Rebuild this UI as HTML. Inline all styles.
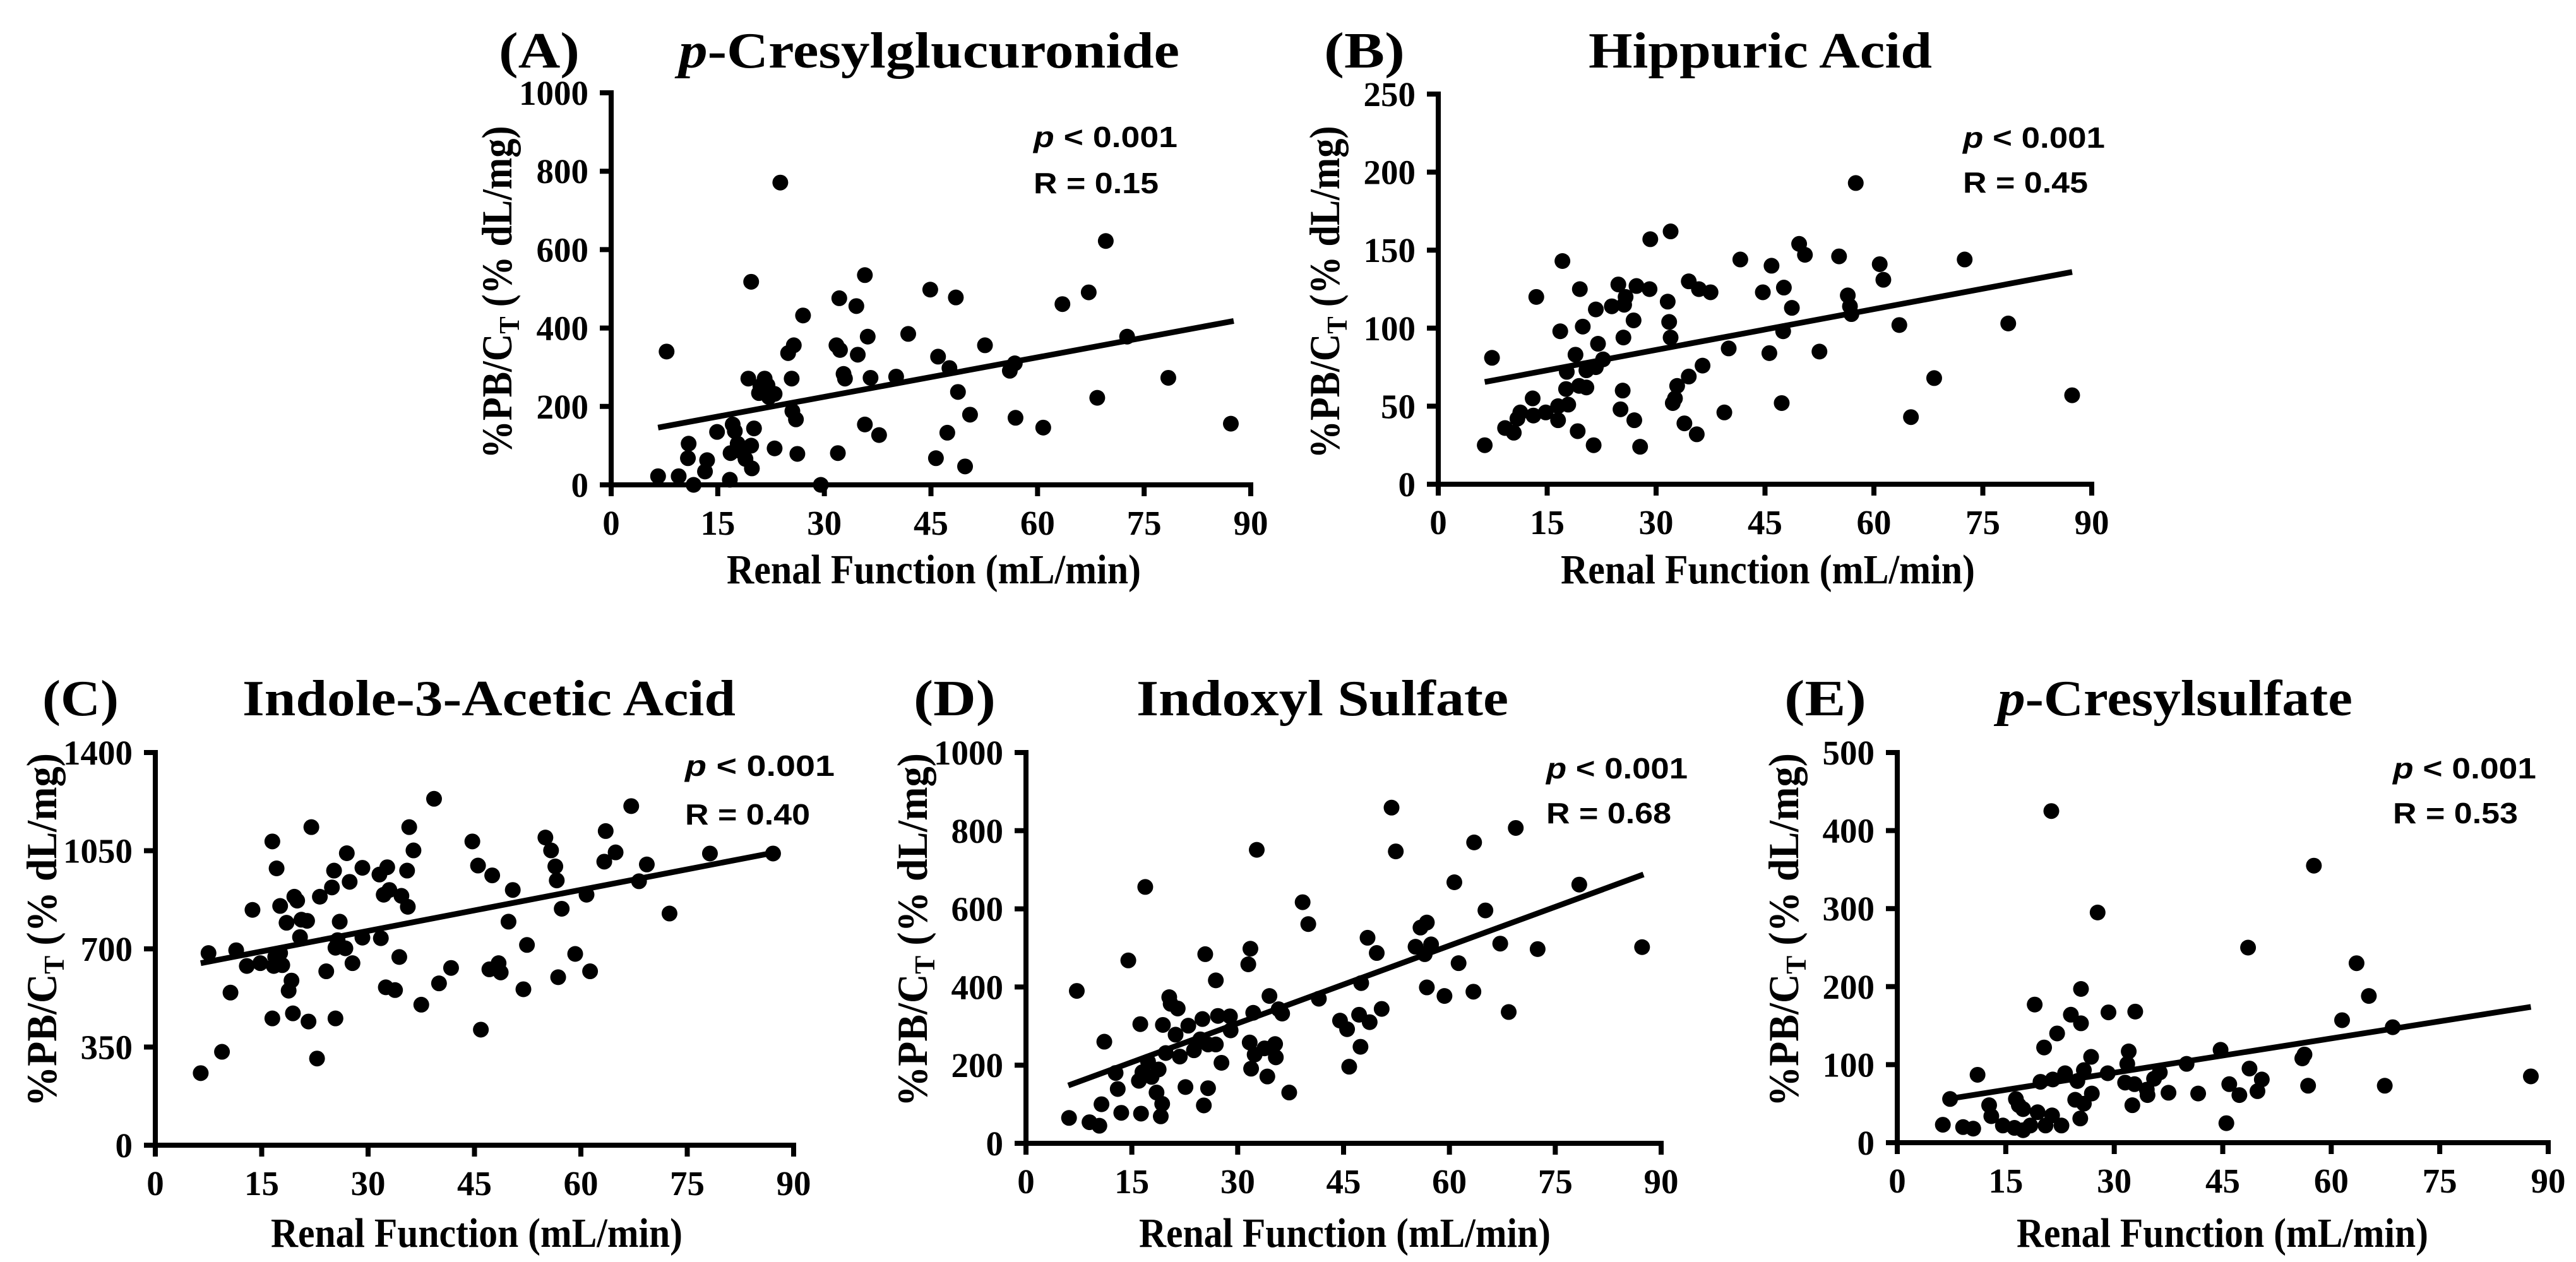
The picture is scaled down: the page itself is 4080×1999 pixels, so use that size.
<!DOCTYPE html>
<html><head><meta charset="utf-8">
<style>
html,body{margin:0;padding:0;background:#fff;}
svg{display:block;}
</style></head>
<body>
<svg id="fig" width="4080" height="1999" viewBox="0 0 4080 1999" xmlns="http://www.w3.org/2000/svg"></svg>
<script>
// ---------- shared ticks ----------
const xTicks=[0,15,30,45,60,75,90];
// ---------- Panel A: p-Cresylglucuronide ----------
const aYTicks=[0,200,400,600,800,1000];
const aX=[6.6,7.8,9.5,10.8,10.9,11.6,13.2,13.5,14.9,16.7,16.8,17.1,17.4,17.8,18.2,18.9,19.3,19.7,19.7,19.8,20.1,20.8,21,21.6,22,22.2,23,23,23.8,24.9,25.4,25.5,25.7,26,26.2,27,29.5,31.7,31.9,32.1,32.2,32.7,32.9,34.5,34.7,35.7,35.7,36.1,36.5,37.7,40.1,41.8,44.9,45.7,46,47.3,47.6,48.5,48.8,49.8,50.5,52.6,56.1,56.8,56.9,60.8,63.5,67.2,68.4,69.6,72.6,78.4,87.2];
const aY=[22,340,22,68,105,0,34,63,135,13,81,154,137,105,86,66,271,518,100,42,144,234,252,271,254,224,232,93,771,336,271,188,356,167,79,432,0,356,81,476,344,283,271,456,332,535,154,378,273,127,276,385,498,68,327,133,298,478,237,47,179,356,291,310,171,146,461,491,222,622,378,273,156];
const aFitX=[6.6,87.6];
const aFitY=[146,418];
// ---------- Panel B: Hippuric Acid ----------
const bYTicks=[0,50,100,150,200,250];
const bX=[6.4,7.4,9.2,10.4,10.9,11.3,13,13.1,13.5,14.8,16.5,16.5,16.8,17.1,17.9,17.6,17.7,18.9,19.2,19.4,19.5,19.9,20.4,20.4,21.4,21.7,21.7,22,22.7,23.9,24.8,25.1,25.4,25.5,25.6,25.8,26.9,27,27.3,27.8,29.1,29.2,31.6,31.8,32,32,32.3,32.6,32.9,33.9,34.5,34.5,35.6,35.9,36.4,37.5,39.4,40,41.6,44.7,45.6,45.9,47.3,47.5,47.6,48.7,49.7,50.5,52.5,55.2,56.4,56.7,56.9,57.5,60.8,61.3,63.5,65.1,68.3,72.5,78.5,87.3];
const bY=[25,81,36,33,42,46,55,44,120,46,41,50,98,143,51,61,72,83,34,63,125,101,62,73,25,75,112,90,80,114,128,48,60,94,115,120,105,41,127,24,125,157,117,104,94,162,52,55,63,39,69,130,32,125,76,123,46,87,144,123,84,140,52,98,126,113,154,147,85,146,121,114,109,193,141,131,102,43,68,144,103,57];
const bFitX=[6.4,87.3];
const bFitY=[65.5,136];
// ---------- Panel C: Indole-3-Acetic Acid ----------
const cYTicks=[0,350,700,1050,1400];
const cX=[6.4,7.5,9.4,10.6,11.4,12.9,13.7,14.8,16.5,16.5,16.7,16.9,17.1,17.6,17.6,17.9,18.5,18.8,19.2,19.4,19.6,20,20.4,20.6,21.4,21.6,22,22.8,23.2,24.1,24.9,25.2,25.4,25.4,25.7,26,26.8,27,27.4,27.8,29.2,29.2,31.6,31.8,32.2,32.5,32.7,33,33.8,34.4,34.7,35.5,35.6,35.8,36.4,37.5,39.3,40,41.7,44.7,45.5,45.9,47.1,47.5,48.4,48.7,49.8,50.4,51.9,52.4,55,55.8,56.4,56.6,56.8,57.3,59.2,60.8,61.3,63.3,63.5,64.9,67.1,68.2,69.3,72.5,78.2,87.1];
const cY=[257,685,333,544,695,639,839,649,452,1083,639,671,987,853,685,642,793,551,587,470,886,872,742,804,800,441,1134,309,886,620,919,979,452,704,731,797,702,1041,939,649,740,989,965,738,893,563,991,910,553,671,889,979,850,1134,1051,501,1235,577,632,1083,997,412,627,962,649,616,797,910,556,714,1097,1051,994,944,599,843,682,893,620,1011,1120,1044,1209,941,1001,826,1040,1040];
const cFitX=[6.4,87.4];
const cFitY=[649,1044];
// ---------- Panel D: Indoxyl Sulfate ----------
const dYTicks=[0,200,400,600,800,1000];
const dX=[6.1,7.2,9,10.4,10.7,11.1,12.7,13,13.5,14.5,16,16.2,16.3,16.5,16.9,17.3,17.8,18.5,18.8,19.1,19.3,19.4,19.8,20.3,20.5,21.2,21.5,21.8,22.6,23,23.8,24.7,25,25.2,25.4,25.8,25.8,26.9,26.9,27.2,27.7,28.9,29,31.5,31.7,31.8,31.9,32.2,32.4,32.7,33.8,34.2,34.5,35.3,35.4,35.8,36.3,37.3,39.2,40,41.5,44.5,45.5,45.8,47.2,47.4,47.5,48.4,48.7,49.7,50.4,51.8,52.4,55.2,55.9,56.5,56.8,56.8,57.4,59.3,60.7,61.3,63.4,63.5,65.1,67.2,68.4,69.4,72.5,78.4,87.3];
const dY=[65,390,54,45,100,260,180,139,78,468,160,305,76,182,656,209,170,130,189,69,101,303,231,374,357,278,345,222,144,301,238,266,318,97,484,141,253,253,417,326,206,325,289,458,258,498,191,334,227,751,243,171,377,254,220,343,332,130,617,561,370,314,292,196,329,247,410,526,310,487,344,859,747,503,552,484,565,399,509,377,668,461,388,770,596,511,336,807,497,662,502];
const dFitX=[6,87.5];
const dFitY=[148,688];
// ---------- Panel E: p-Cresylsulfate ----------
const eYTicks=[0,100,200,300,400,500];
const eX=[6.3,7.3,9.1,10.5,11.1,12.7,13,14.6,16.2,16.4,16.8,17.4,17.4,18.4,19,19.4,19.8,20.3,20.5,21.3,21.4,21.5,22.1,22.7,23.2,24,24.6,24.9,25.3,25.4,25.4,25.8,25.8,26.8,26.9,27.7,29.1,29.2,31.5,31.8,32,32.5,32.8,32.9,34.5,34.6,35.5,36.3,37.5,40,41.6,44.7,45.5,45.9,47.3,48.5,48.7,49.8,50.4,56,56.3,56.8,57.6,61.5,63.5,65.2,67.4,68.5,87.6];
const eY=[23,56,20,18,87,48,34,22,19,56,48,43,16,22,177,39,78,122,22,425,35,81,140,22,89,164,55,79,31,197,153,93,50,110,63,295,89,167,77,101,117,48,75,168,68,61,82,90,64,101,63,119,25,75,61,250,95,66,81,108,113,73,355,157,230,188,73,148,85];
const eFitX=[7,87.6];
const eFitY=[56,174];

// ---------- layout (pixels, not data) ----------
const NS='http://www.w3.org/2000/svg';
const svg=document.getElementById('fig');
function mk(tag,attrs,parent){const e=document.createElementNS(NS,tag);for(const k in attrs)e.setAttribute(k,attrs[k]);(parent||svg).appendChild(e);return e;}

const panels=[
 {id:'a',x0:968,x1:1981,y0:768,y1:147,xs:aX,ys:aY,yt:aYTicks,fx:aFitX,fy:aFitY,
  letter:'(A)',lx:790,lw:128,title:['p','-Cresylglucuronide'],tx:1075,tw:793,tb:107,
  px:1637,pw:228,pb:233,rb:306,ptxt:' < 0.001',rtxt:'R = 0.15',rw:198,
  ylx:810,ylc:463,yll:527,xlc:1479,xlb:924,xlw:656},
 {id:'b',x0:2278,x1:3313,y0:767,y1:149,xs:bX,ys:bY,yt:bYTicks,fx:bFitX,fy:bFitY,
  letter:'(B)',lx:2097,lw:128,title:['','Hippuric Acid'],tx:2516,tw:544,tb:107,
  px:3109,pw:225,pb:234,rb:305,ptxt:' < 0.001',rtxt:'R = 0.45',rw:198,
  ylx:2121,ylc:463,yll:527,xlc:2800,xlb:924,xlw:656},
 {id:'c',x0:246,x1:1257,y0:1814,y1:1192,xs:cX,ys:cY,yt:cYTicks,fx:cFitX,fy:cFitY,
  letter:'(C)',lx:67,lw:121,title:['','Indole-3-Acetic Acid'],tx:384,tw:781,tb:1133,
  px:1085,pw:237,pb:1229,rb:1306,ptxt:' <  0.001',rtxt:'R = 0.40',rw:198,
  ylx:89,ylc:1473,yll:560,xlc:755,xlb:1975,xlw:652},
 {id:'d',x0:1625,x1:2631,y0:1811,y1:1192,xs:dX,ys:dY,yt:dYTicks,fx:dFitX,fy:dFitY,
  letter:'(D)',lx:1447,lw:130,title:['','Indoxyl Sulfate'],tx:1800,tw:589,tb:1133,
  px:2449,pw:224,pb:1233,rb:1304,ptxt:' < 0.001',rtxt:'R = 0.68',rw:198,
  ylx:1468,ylc:1473,yll:560,xlc:2130,xlb:1975,xlw:652},
 {id:'e',x0:3005,x1:4036,y0:1810,y1:1192,xs:eX,ys:eY,yt:eYTicks,fx:eFitX,fy:eFitY,
  letter:'(E)',lx:2826,lw:130,title:['p','-Cresylsulfate'],tx:3164,tw:562,tb:1133,
  px:3790,pw:227,pb:1233,rb:1304,ptxt:' < 0.001',rtxt:'R = 0.53',rw:198,
  ylx:2848,ylc:1473,yll:560,xlc:3520,xlb:1975,xlw:652}
];

const serif='"Liberation Serif", "Times New Roman", serif';
const sans='"Liberation Sans", Arial, sans-serif';

panels.forEach(p=>{
  const g=mk('g',{});
  
  
  const ymax=p.yt[p.yt.length-1];
  const sx=v=>p.x0+(v-xTicks[0])/(xTicks[xTicks.length-1]-xTicks[0])*(p.x1-p.x0);
  const sy=v=>p.y0-(v-p.yt[0])/(ymax-p.yt[0])*(p.y0-p.y1);

  const L=mk('text',{x:p.lx,y:p.tb,'font-family':serif,'font-weight':'bold','font-size':80,textLength:p.lw,lengthAdjust:'spacingAndGlyphs'},g);
  L.textContent=p.letter;
  
  
  const T=mk('text',{x:p.tx,y:p.tb,'font-family':serif,'font-weight':'bold','font-size':80,textLength:p.tw,lengthAdjust:'spacingAndGlyphs'},g);
  
  
  if(p.title[0]){const s=mk('tspan',{'font-style':'italic'},T);s.textContent=p.title[0];}
  const s2=mk('tspan',{},T);s2.textContent=p.title[1];

  const ax=mk('g',{stroke:'#000','stroke-width':8,fill:'none','stroke-linecap':'square'},g);
  
  
  mk('line',{x1:p.x0,y1:p.y0,x2:p.x1,y2:p.y0},ax);
  mk('line',{x1:p.x0,y1:p.y0,x2:p.x0,y2:p.y1},ax);
  xTicks.forEach(t=>{
    mk('line',{x1:sx(t),y1:p.y0,x2:sx(t),y2:p.y0+14},ax);
    const tl=mk('text',{x:sx(t),y:p.y0+79,'text-anchor':'middle','font-family':serif,'font-weight':'bold','font-size':55,fill:'#000',stroke:'none'},g);
    tl.textContent=t;
    
    
  });
  p.yt.forEach(t=>{
    mk('line',{x1:p.x0-14,y1:sy(t),x2:p.x0,y2:sy(t)},ax);
    const tl=mk('text',{x:p.x0-36,y:sy(t)+19,'text-anchor':'end','font-family':serif,'font-weight':'bold','font-size':55,fill:'#000'},g);
    tl.textContent=t;
    
    
  });

  const XT=mk('text',{x:p.xlc,y:p.xlb,'text-anchor':'middle','font-family':serif,'font-weight':'bold','font-size':66,textLength:p.xlw,lengthAdjust:'spacingAndGlyphs'},g);
  XT.textContent='Renal Function (mL/min)';
  
  
  const YT=mk('text',{x:0,y:0,'text-anchor':'middle','font-family':serif,'font-weight':'bold','font-size':68,textLength:p.yll,lengthAdjust:'spacingAndGlyphs',transform:`translate(${p.ylx},${p.ylc}) rotate(-90)`},g);
  
  
  const y1=mk('tspan',{},YT);y1.textContent='%PB/C';
  const y2=mk('tspan',{'font-size':46,dy:12},YT);y2.textContent='T';
  const y3=mk('tspan',{dy:-12},YT);y3.textContent=' (% dL/mg)';

  const pts=mk('g',{fill:'#000'},g);
  
  
  p.xs.forEach((v,i)=>{
    const c=mk('circle',{cx:sx(v),cy:sy(p.ys[i]),r:12.5},pts);
    
    
  });
  const ln=mk('line',{x1:sx(p.fx[0]),y1:sy(p.fy[0]),x2:sx(p.fx[1]),y2:sy(p.fy[1]),stroke:'#000','stroke-width':9},g);
  
  

  const P=mk('text',{x:p.px,y:p.pb,'font-family':sans,'font-weight':'bold','font-size':46,textLength:p.pw,lengthAdjust:'spacingAndGlyphs'},g);
  
  
  const pi=mk('tspan',{'font-style':'italic'},P);pi.textContent='p';
  const pr=mk('tspan',{},P);pr.textContent=p.ptxt;
  const R=mk('text',{x:p.px,y:p.rb,'font-family':sans,'font-weight':'bold','font-size':46,textLength:p.rw,lengthAdjust:'spacingAndGlyphs'},g);
  R.textContent=p.rtxt;
  
  
});
</script>
</body></html>
